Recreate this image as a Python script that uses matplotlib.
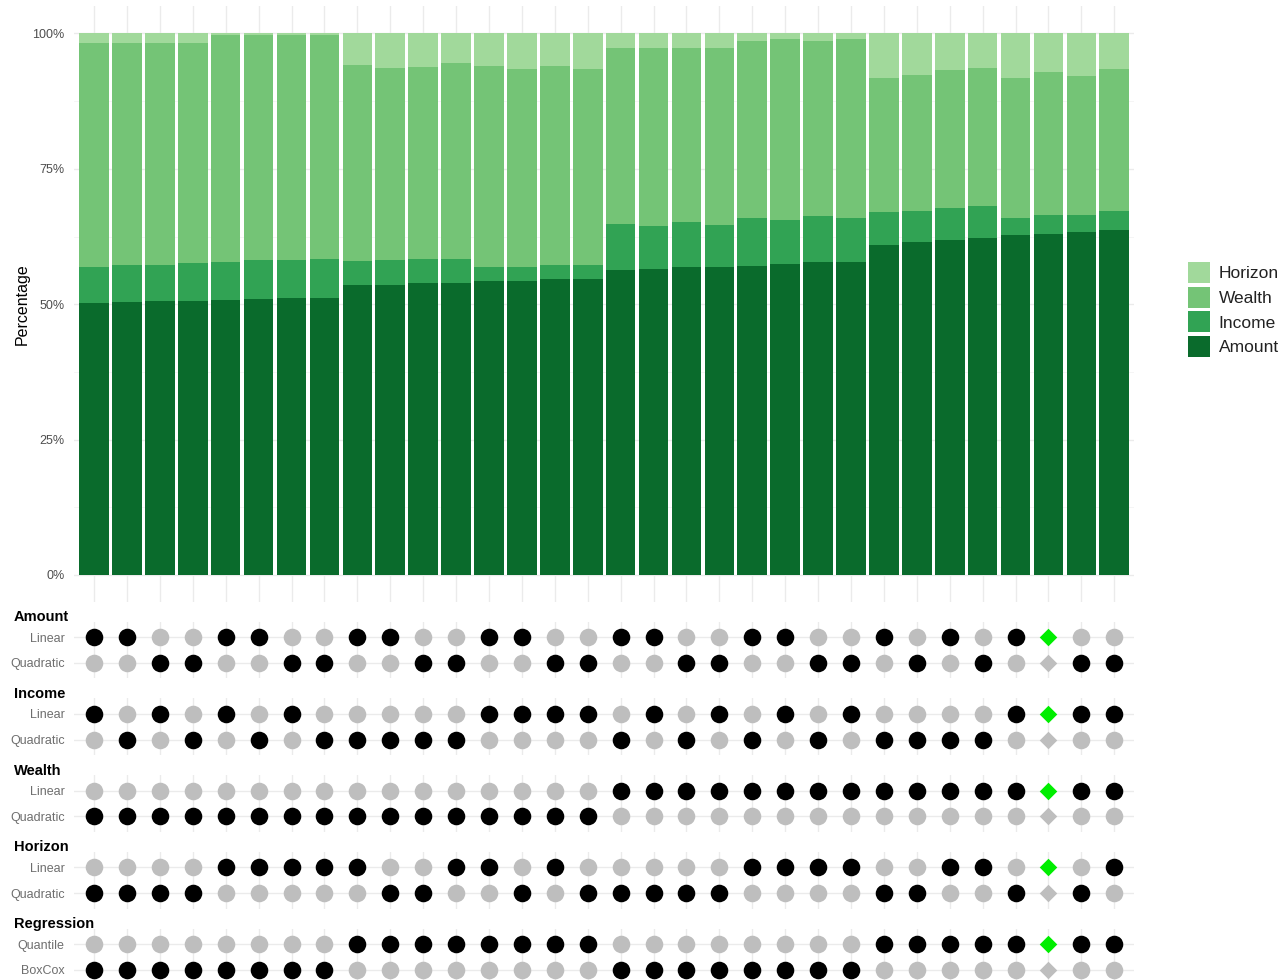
import numpy as np
import matplotlib.pyplot as plt
from matplotlib.patches import Patch

plt.rcParams['font.family'] = ['Liberation Sans', 'DejaVu Sans']

# share of each component per specification (percent)
amount = [50.2, 50.4, 50.5, 50.5, 50.8, 51.0, 51.2, 51.2, 53.5, 53.5, 53.9, 53.9,
          54.3, 54.3, 54.7, 54.7, 56.3, 56.5, 56.9, 56.9, 57.1, 57.4, 57.8, 57.8,
          60.9, 61.4, 61.9, 62.3, 62.7, 63.0, 63.3, 63.7]
income = [6.7, 6.9, 6.8, 7.1, 7.0, 7.2, 7.0, 7.2, 4.5, 4.7, 4.5, 4.5,
          2.6, 2.6, 2.6, 2.6, 8.6, 8.0, 8.2, 7.8, 8.8, 8.2, 8.4, 8.1,
          6.1, 5.9, 5.9, 5.9, 3.2, 3.5, 3.2, 3.5]
wealth = [41.4, 41.0, 41.0, 40.7, 42.0, 41.6, 41.6, 41.4, 36.2, 35.4, 35.4, 36.1,
          37.1, 36.6, 36.7, 36.2, 32.4, 32.8, 32.2, 32.6, 32.8, 33.4, 32.5, 33.1,
          24.8, 25.1, 25.5, 25.5, 25.8, 26.4, 25.7, 26.3]
horizon = [1.7, 1.7, 1.7, 1.7, 0.2, 0.2, 0.2, 0.2, 5.8, 6.4, 6.2, 5.5,
           6.0, 6.5, 6.0, 6.5, 2.7, 2.7, 2.7, 2.7, 1.3, 1.0, 1.3, 1.0,
           8.2, 7.6, 6.7, 6.3, 8.3, 7.1, 7.8, 6.5]

components = ['Amount', 'Income', 'Wealth', 'Horizon']
comp_colors = ['#0a6b2c', '#31a354', '#74c476', '#a1d99b']

# specification matrix: 1 = option used in that model
groups = ['Amount', 'Income', 'Wealth', 'Horizon', 'Regression']
options = [['Linear', 'Quadratic'], ['Linear', 'Quadratic'], ['Linear', 'Quadratic'],
           ['Linear', 'Quadratic'], ['Quantile', 'BoxCox']]
spec_amount = ['11001100110011001100110010101100', '00110011001100110011001101010011']
spec_income = ['10101010000011110101010100001111', '01010101111100001010101011110000']
spec_wealth = ['00000000000000001111111111111111', '11111111111111110000000000000000']
spec_horizon = ['00001111100110100000111100110101', '11110000011001011111000011001010']
spec_regression = ['00000000111111110000000011111111', '11111111000000001111111100000000']
specs = [spec_amount, spec_income, spec_wealth, spec_horizon, spec_regression]
chosen_model = 29

W, H = 1283, 980
fig = plt.figure(figsize=(W / 100, H / 100), dpi=100)


def box(l, t, r, b):
    return [l / W, 1 - b / H, (r - l) / W, (b - t) / H]


grid_col = '#ebebeb'
tick_col = '#4d4d4d'
n = len(amount)
x = np.arange(n)
xlim = (-0.6, n - 1 + 0.6)

# stacked percentage bars
ax = fig.add_axes(box(74.3, 6.4, 1134, 602))
vals = np.array([amount, income, wealth, horizon])
vals = vals / vals.sum(axis=0) * 100
bottom = np.zeros(n)
for v, c in zip(vals, comp_colors):
    ax.bar(x, v, bottom=bottom, width=0.9, color=c, linewidth=0, zorder=2)
    bottom += v
ax.set_xlim(*xlim)
ax.set_ylim(-5, 105)
ax.set_yticks([0, 25, 50, 75, 100])
ax.set_yticklabels(['0%', '25%', '50%', '75%', '100%'])
ax.set_yticks([12.5, 37.5, 62.5, 87.5], minor=True)
ax.set_xticks(x)
ax.tick_params(axis='both', which='both', length=0, labelsize=9, labelcolor=tick_col, pad=7)
ax.tick_params(axis='x', labelbottom=False)
ax.grid(True, which='major', color=grid_col, linewidth=1.0, zorder=0)
ax.grid(True, which='minor', axis='y', color='#f4f4f4', linewidth=0.6, zorder=0)
ax.set_ylabel('Percentage', fontsize=11.5, labelpad=2)
for s in ax.spines.values():
    s.set_visible(False)

handles = [Patch(facecolor=c, edgecolor='none') for c in comp_colors[::-1]]
fig.legend(handles, components[::-1], loc='center left',
           bbox_to_anchor=(1188 / W, 1 - 309.5 / H), frameon=False, fontsize=12.5,
           handlelength=1.26, handleheight=1.5, handletextpad=0.5,
           labelspacing=0.2, borderpad=0, borderaxespad=0, labelcolor='#222222')

# specification dot panels
row_gap = 25.7
for g, (name, opts, rows) in enumerate(zip(groups, options, specs)):
    y_lin = 637 + 76.8 * g
    dax = fig.add_axes(box(74.3, y_lin - 0.6 * row_gap, 1134, y_lin + 1.6 * row_gap))
    dax.set_xlim(*xlim)
    dax.set_ylim(1.6, -0.6)
    for r, row in enumerate(rows):
        used = np.array([ch == '1' for ch in row])
        dots = np.array([i != chosen_model for i in range(n)])
        dax.scatter(x[dots & used], np.full((dots & used).sum(), r), s=160,
                    color='black', linewidths=0, zorder=3)
        dax.scatter(x[dots & ~used], np.full((dots & ~used).sum(), r), s=160,
                    color='#bebebe', linewidths=0, zorder=3)
        dax.scatter([chosen_model], [r], marker='D', s=80, linewidths=0, zorder=3,
                    color='#00ee00' if used[chosen_model] else '#bebebe')
    dax.set_yticks([0, 1])
    dax.set_yticklabels(opts)
    dax.set_xticks(x)
    dax.tick_params(axis='both', length=0, labelsize=9, labelcolor='#6e6e6e', pad=7)
    dax.tick_params(axis='x', labelbottom=False)
    dax.grid(True, color=grid_col, linewidth=1.0, zorder=0)
    for s in dax.spines.values():
        s.set_visible(False)
    fig.text(14 / W, 1 - (y_lin - 20) / H, name, fontsize=10.5, fontweight='bold',
             ha='left', va='center', color='black')

fig.savefig('out.png', dpi=100, facecolor='white')
